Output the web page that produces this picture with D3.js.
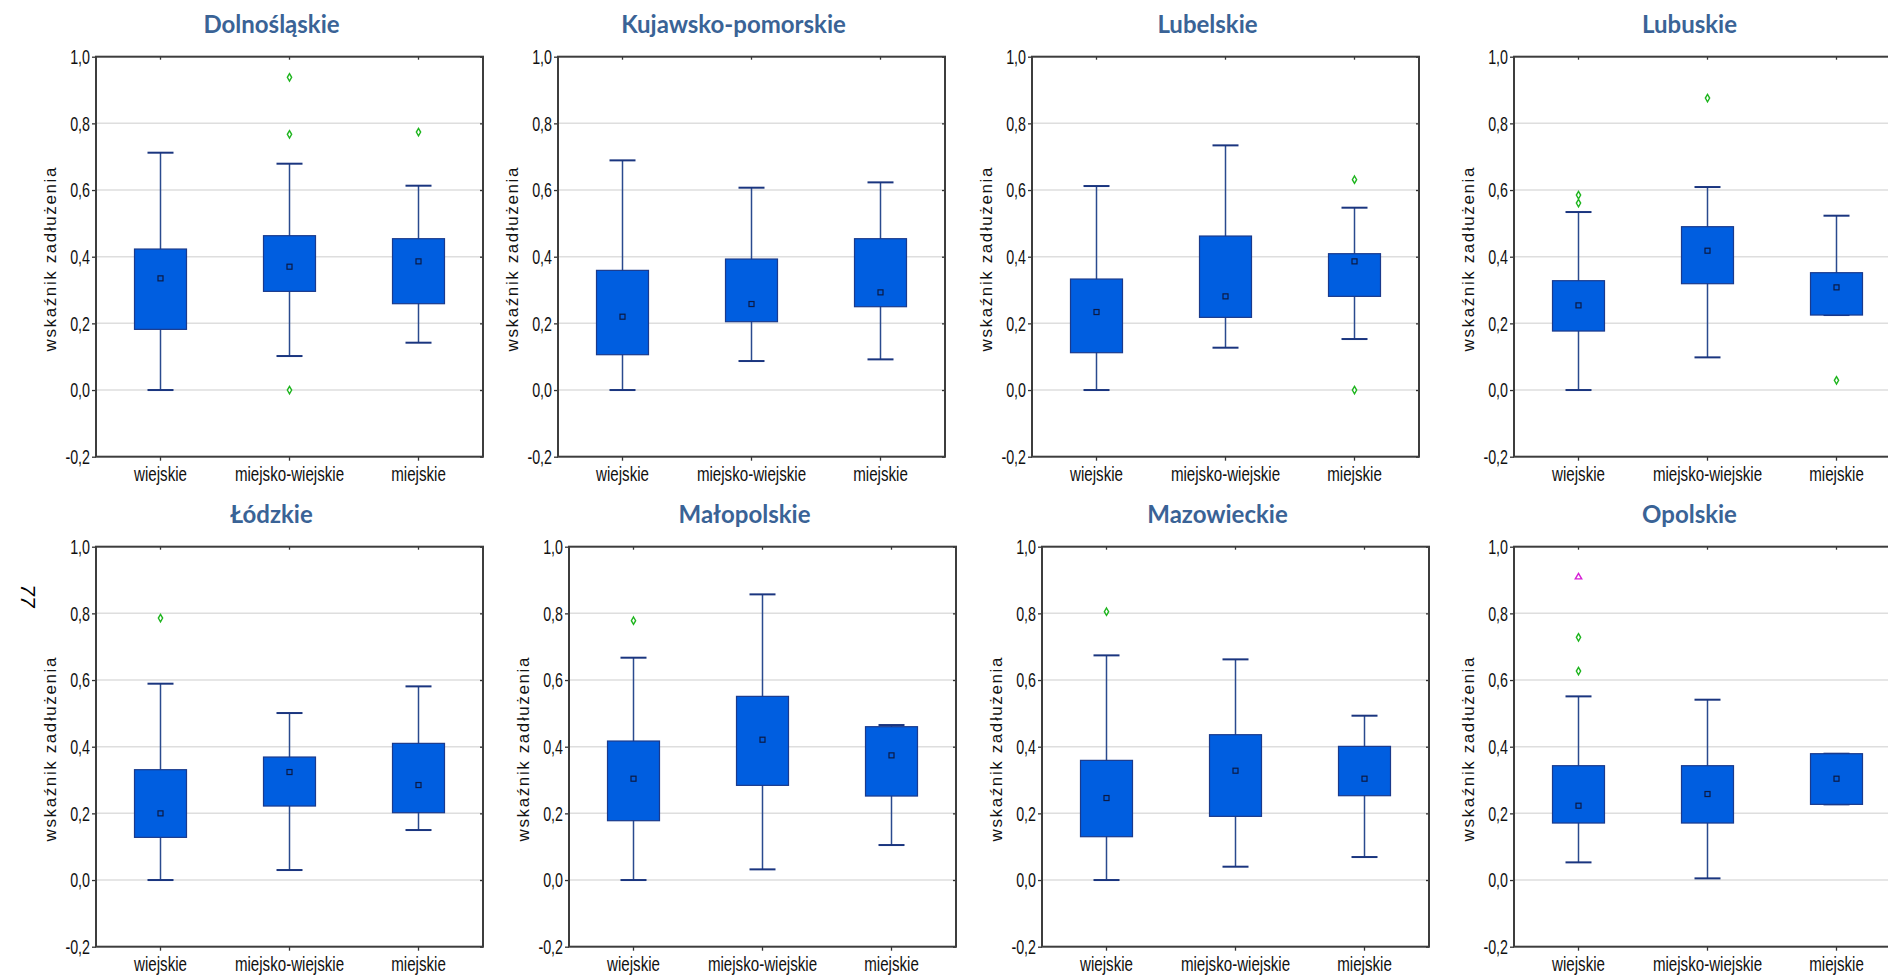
<!DOCTYPE html>
<html>
<head>
<meta charset="utf-8">
<script src="https://cdn.jsdelivr.net/npm/d3@7"></script>
<style>
    body { margin: 0; background: #fff; }
    svg { display: block; }
    .tick text { font-family: "Liberation Sans", Arial, sans-serif; font-size: 21px; fill: #111; }
    .title { font-family: Lato, "Open Sans", sans-serif; font-weight: bold; font-size: 24px; fill: #3a6396; }
    .ylabel { font-family: "Liberation Sans", Arial, sans-serif; font-size: 17px; letter-spacing: 1.6px; fill: #111; }
</style>
</head>
<body>
<div id="chart"></div>
<script>
const regions = ["Dolnośląskie", "Kujawsko-pomorskie", "Lubelskie", "Lubuskie",
    "Łódzkie", "Małopolskie", "Mazowieckie", "Opolskie"]
const categories = ["wiejskie", "miejsko-wiejskie", "miejskie"]
const yTicks = [-0.2, 0.0, 0.2, 0.4, 0.6, 0.8, 1.0]
const gridTicks = [0.0, 0.2, 0.4, 0.6, 0.8]

// per region: [wiejskie, miejsko-wiejskie, miejskie]
const whiskerLow = [
    [0.000, 0.102, 0.142], [0.000, 0.087, 0.092], [0.000, 0.127, 0.153], [0.000, 0.098, 0.225],
    [0.000, 0.030, 0.150], [0.000, 0.032, 0.105], [0.000, 0.040, 0.069], [0.053, 0.005, 0.227]
]
const q1 = [
    [0.182, 0.296, 0.259], [0.106, 0.205, 0.250], [0.112, 0.218, 0.281], [0.177, 0.319, 0.225],
    [0.128, 0.222, 0.202], [0.178, 0.284, 0.252], [0.130, 0.191, 0.253], [0.171, 0.171, 0.227]
]
const q3 = [
    [0.423, 0.463, 0.454], [0.359, 0.393, 0.454], [0.333, 0.462, 0.409], [0.328, 0.490, 0.352],
    [0.331, 0.369, 0.410], [0.417, 0.551, 0.460], [0.359, 0.436, 0.401], [0.343, 0.343, 0.379]
]
const whiskerHigh = [
    [0.712, 0.679, 0.613], [0.689, 0.607, 0.623], [0.612, 0.734, 0.547], [0.534, 0.609, 0.523],
    [0.589, 0.501, 0.581], [0.667, 0.857, 0.465], [0.674, 0.662, 0.493], [0.551, 0.541, 0.379]
]
const means = [
    [0.335, 0.370, 0.386], [0.220, 0.258, 0.293], [0.234, 0.281, 0.386], [0.254, 0.418, 0.308],
    [0.200, 0.324, 0.285], [0.304, 0.421, 0.374], [0.246, 0.328, 0.304], [0.223, 0.258, 0.304]
]
const outliers = [
    [[], [0.938, 0.767, 0.000], [0.774]],
    [[], [], []],
    [[], [], [0.631, 0.000]],
    [[0.585, 0.561], [0.876], [0.029]],
    [[0.786], [], []],
    [[0.778], [], []],
    [[0.805], [], []],
    [[0.728, 0.627], [], []]
]
const extremes = [
    [[], [], []], [[], [], []], [[], [], []], [[], [], []],
    [[], [], []], [[], [], []], [[], [], []], [[0.909], [], []]
]

var width = 1888, height = 976
var plotW = 387, plotH = 400
var rowTops = [56.7, 546.7]
var panelLefts = [[96, 558, 1032, 1514], [96, 569, 1042, 1514]]
var boxW = 52, capW = 26

const fmt = d => d3.format(".1f")(d).replace(".", ",").replace("\u2212", "-")

// squeeze text horizontally, the original uses a narrow face
function narrow(sel, k) {
    sel.each(function() {
        const w = this.getComputedTextLength()
        d3.select(this).attr("textLength", w * k).attr("lengthAdjust", "spacingAndGlyphs")
    })
}

const svg = d3.select("#chart")
    .append("svg")
        .attr("width", width)
        .attr("height", height)

// page number on the side
svg.append("text")
    .attr("transform", "translate(21,596) rotate(90)")
    .attr("text-anchor", "middle")
    .style("font-family", "Liberation Sans, Arial, sans-serif")
    .style("font-style", "italic")
    .style("font-size", "21px")
    .text("77")

regions.forEach((name, i) => {
    const row = Math.floor(i / 4), col = i % 4
    const left = panelLefts[row][col], top = rowTops[row]

    const y = d3.scaleLinear().domain([-0.2, 1.0]).range([plotH, 0])
    const x = d3.scaleBand().domain(categories).range([0, plotW]).padding(0)

    const g = svg.append("g")
        .attr("transform", "translate(" + left + "," + top + ")")

    g.selectAll(".grid")
        .data(gridTicks)
        .enter()
        .append("line")
            .attr("x1", 0).attr("x2", plotW)
            .attr("y1", d => y(d)).attr("y2", d => y(d))
            .attr("stroke", "#dedede")
            .attr("stroke-width", 1.5)

    const stats = categories.map((c, j) => ({
        cat: c,
        lo: whiskerLow[i][j], q1: q1[i][j], q3: q3[i][j], hi: whiskerHigh[i][j],
        mean: means[i][j], out: outliers[i][j], ext: extremes[i][j]
    }))

    const box = g.selectAll(".box")
        .data(stats)
        .enter()
        .append("g")
            .attr("transform", d => "translate(" + (x(d.cat) + x.bandwidth() / 2) + ",0)")

    box.append("line")
        .attr("x1", 0).attr("x2", 0)
        .attr("y1", d => y(d.lo)).attr("y2", d => y(d.hi))
        .attr("stroke", "#2a4a8e").attr("stroke-width", 1.5)
    box.append("line")
        .attr("x1", -capW / 2).attr("x2", capW / 2)
        .attr("y1", d => y(d.hi)).attr("y2", d => y(d.hi))
        .attr("stroke", "#1a357f").attr("stroke-width", 2)
    box.append("line")
        .attr("x1", -capW / 2).attr("x2", capW / 2)
        .attr("y1", d => y(d.lo)).attr("y2", d => y(d.lo))
        .attr("stroke", "#1a357f").attr("stroke-width", 2)
    box.append("rect")
        .attr("x", -boxW / 2).attr("width", boxW)
        .attr("y", d => y(d.q3))
        .attr("height", d => y(d.q1) - y(d.q3))
        .attr("fill", "#005ee0")
        .attr("stroke", "#1a3a8c").attr("stroke-width", 1.2)
    box.append("rect")
        .attr("x", -2.5).attr("width", 5)
        .attr("y", d => y(d.mean) - 2.5).attr("height", 5)
        .attr("fill", "none")
        .attr("stroke", "#0b1a44").attr("stroke-width", 1.2)

    box.selectAll(".out")
        .data(d => d.out)
        .enter()
        .append("path")
            .attr("d", d3.symbol(d3.symbolDiamond, 16))
            .attr("transform", d => "translate(0," + y(d) + ")")
            .attr("fill", "#fff")
            .attr("stroke", "#1fb51f").attr("stroke-width", 1.4)
    box.selectAll(".ext")
        .data(d => d.ext)
        .enter()
        .append("path")
            .attr("d", d3.symbol(d3.symbolTriangle, 18))
            .attr("transform", d => "translate(0," + y(d) + ")")
            .attr("fill", "#fff")
            .attr("stroke", "#d61fd6").attr("stroke-width", 1.4)

    // axes
    const yAxis = g.append("g")
        .call(d3.axisLeft(y).tickValues(yTicks).tickFormat(fmt).tickSize(4).tickPadding(2))
    const xAxis = g.append("g")
        .attr("transform", "translate(0," + plotH + ")")
        .call(d3.axisBottom(x).tickSize(4).tickPadding(5))
    g.append("g")
        .call(d3.axisTop(x).tickSize(-3).tickFormat(""))
    g.append("g")
        .attr("transform", "translate(" + plotW + ",0)")
        .call(d3.axisRight(y).tickValues(yTicks).tickSize(-3).tickFormat(""))
    g.selectAll(".domain").remove()
    g.selectAll(".tick line").attr("stroke", "#333").attr("stroke-width", 1.3)
    yAxis.selectAll(".tick text").call(narrow, 0.68)
    xAxis.selectAll(".tick text").call(narrow, 0.72)

    g.append("rect")
        .attr("width", plotW).attr("height", plotH)
        .attr("fill", "none")
        .attr("stroke", "#3d3d3d").attr("stroke-width", 2)

    g.append("text")
        .attr("class", "ylabel")
        .attr("transform", "translate(-40," + (plotH / 2 + 2) + ") rotate(-90)")
        .attr("text-anchor", "middle")
        .text("wskaźnik zadłużenia")

    svg.append("text")
        .attr("class", "title")
        .attr("x", left + plotW / 2 - 18)
        .attr("y", top - 24)
        .attr("text-anchor", "middle")
        .text(name)
})
</script>
</body>
</html>
